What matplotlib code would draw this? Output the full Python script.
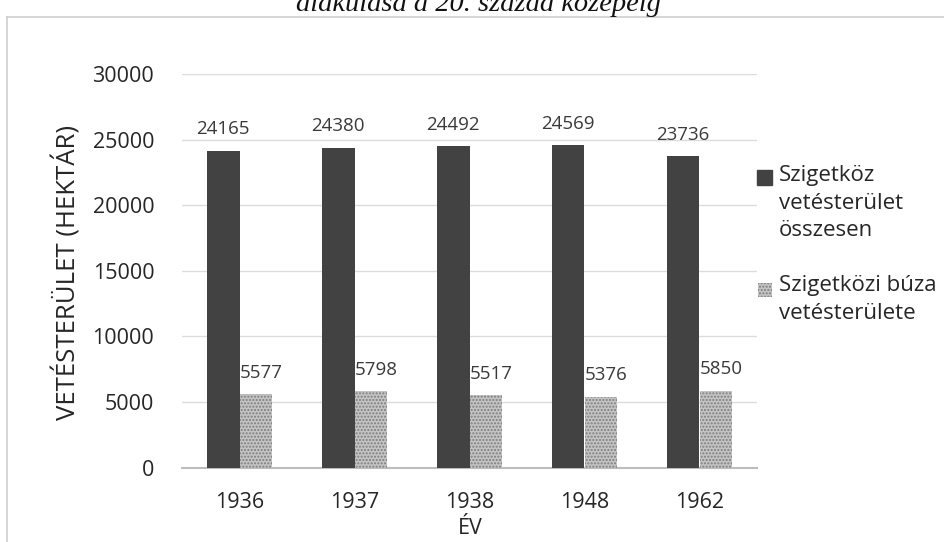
import numpy as np
import matplotlib
matplotlib.use("Agg")
import matplotlib.pyplot as plt
from matplotlib.patches import Rectangle

# data
years = ['1936', '1937', '1938', '1948', '1962']
osszes = [24165, 24380, 24492, 24569, 23736]   # Szigetköz vetésterület összesen
buza = [5577, 5798, 5517, 5376, 5850]           # Szigetközi búza vetésterülete
yticks = [0, 5000, 10000, 15000, 20000, 25000, 30000]

txt = '#262626'
plt.rcParams['font.family'] = ['Open Sans', 'DejaVu Sans']

fig = plt.figure(figsize=(9.44, 5.42), dpi=100)
ax = fig.add_axes([182/944, 1-467.5/542, 575/944, (467.5-74)/542])

x = np.arange(len(years))
w = 0.283
b1 = ax.bar(x - w/2, osszes, w, color='#424242', zorder=3)
b2 = ax.bar(x + w/2, buza, w, color='#c4c4c4', edgecolor='#7d7d7d',
            hatch='.....', linewidth=0, zorder=3)

for r, v in zip(b1, osszes):
    ax.annotate(str(v), (r.get_x() + r.get_width()/2, v), xytext=(0, 9),
                textcoords='offset points', ha='center', va='bottom',
                fontsize=13.5, color='#3a3a3a')
for r, v in zip(b2, buza):
    ax.annotate(str(v), (r.get_x() + r.get_width()/2, v), xytext=(4, 9),
                textcoords='offset points', ha='center', va='bottom',
                fontsize=13.5, color='#3a3a3a')

ax.set_xlim(-0.5, len(years) - 0.5)
ax.set_ylim(0, 30000)
ax.set_yticks(yticks)
ax.set_yticklabels([str(t) for t in yticks], fontsize=15.5, color=txt)
ax.set_xticks(x)
ax.set_xticklabels(years, fontsize=15.5, color=txt)
ax.tick_params(length=0, pad=20)
ax.tick_params(axis='x', pad=18)
ax.grid(axis='y', color='#dcdcdc', lw=1, zorder=0)
for s in ['top', 'right', 'left']:
    ax.spines[s].set_visible(False)
ax.spines['bottom'].set_color('#bdbdbd')
ax.spines['bottom'].set_linewidth(1.5)

fig.text(67/944, 1-272/542, 'VETÉSTERÜLET (HEKTÁR)', rotation=90,
         ha='center', va='center', fontsize=18.5, color=txt)
fig.text(470/944, 1-529/542, 'ÉV', ha='center', va='center',
         fontsize=15.5, color=txt)

# legend, drawn by hand so the square sits on the first line
fig.patches.append(Rectangle((757/944, 1-185/542), 15/944, 15/542,
                             transform=fig.transFigure, color='#424242'))
fig.patches.append(Rectangle((758/944, 1-297/542), 14/944, 14/542,
                             transform=fig.transFigure, facecolor='#c4c4c4',
                             edgecolor='#7d7d7d', hatch='.....', linewidth=0))
fig.text(779/944, 1-165/542, 'Szigetköz\nvetésterület\nösszesen',
         ha='left', va='top', fontsize=16, color=txt, linespacing=1.42)
fig.text(779/944, 1-275/542, 'Szigetközi búza\nvetésterülete',
         ha='left', va='top', fontsize=16, color=txt, linespacing=1.42)

# cut-off caption and light page frame from the scan
fig.text(478/944, 1-11/542, 'alakulása a 20. század közepéig',
         ha='center', va='baseline', fontsize=20.5, style='italic',
         family='Liberation Serif', color='#111111')
fig.add_artist(plt.Line2D([7/944, 1], [1-17/542, 1-17/542],
                          transform=fig.transFigure, color='#cfcfcf', lw=1.2))
fig.add_artist(plt.Line2D([7/944, 7/944], [0, 1-17/542],
                          transform=fig.transFigure, color='#cfcfcf', lw=1.2))

fig.savefig('out.png', dpi=100)
